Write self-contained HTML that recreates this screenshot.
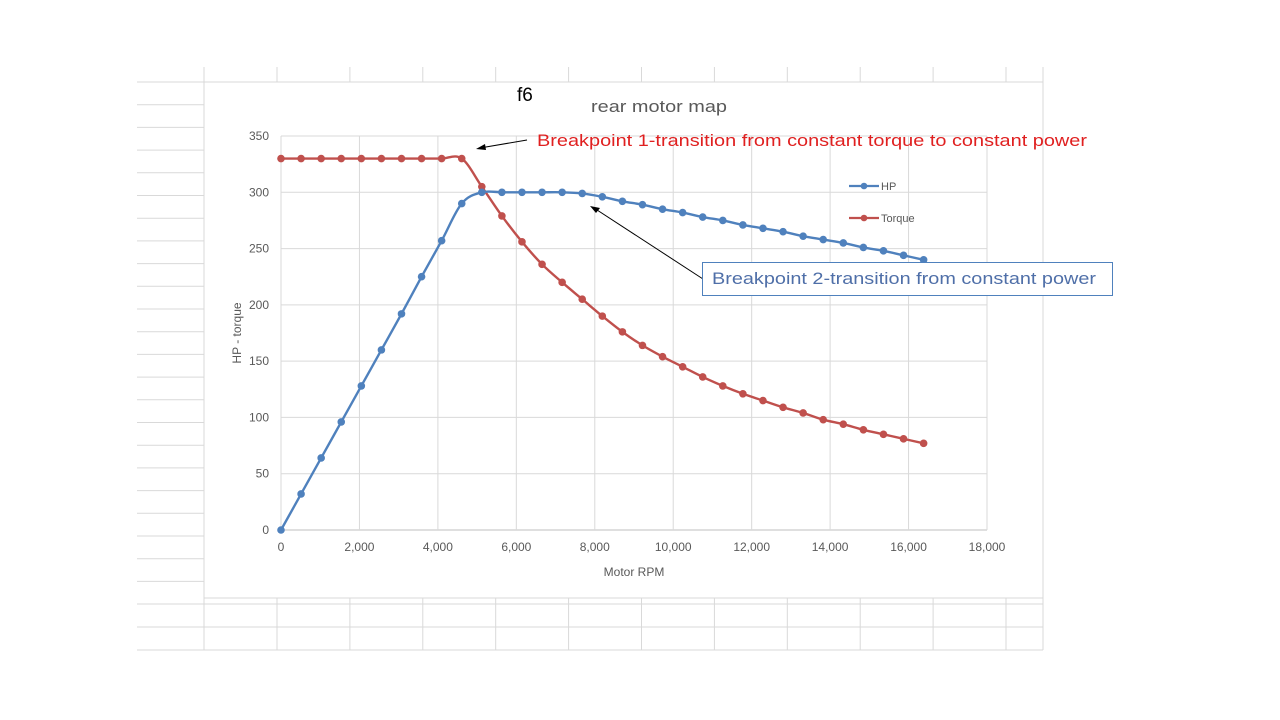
<!DOCTYPE html>
<html><head><meta charset="utf-8"><style>
html,body{margin:0;padding:0;background:#fff;}
svg{display:block;font-family:"Liberation Sans",sans-serif;}
</style></head><body>
<svg id="chart" width="1280" height="720" viewBox="0 0 1280 720">
<g id="sheet"></g>
<g id="grid"></g>
<g id="axes"></g>
<g id="series"></g>
<text x="517" y="101" font-size="19" fill="#000">f6</text>
<text x="591" y="112" font-size="17" fill="#595959" textLength="136" lengthAdjust="spacingAndGlyphs">rear motor map</text>
<text x="241" y="333" font-size="12" fill="#595959" text-anchor="middle" transform="rotate(-90 241 333)">HP - torque</text>
<text x="634" y="576" font-size="12" fill="#595959" text-anchor="middle">Motor RPM</text>
<g>
<g><line x1="849" y1="186" x2="879" y2="186" stroke="#4F81BD" stroke-width="2.2"/><circle cx="864" cy="186" r="3.3" fill="#4F81BD"/><text x="881" y="190" font-size="11" fill="#595959">HP</text></g>
<g><line x1="849" y1="218" x2="879" y2="218" stroke="#C0504D" stroke-width="2.2"/><circle cx="864" cy="218" r="3.3" fill="#C0504D"/><text x="881" y="222" font-size="11" fill="#595959">Torque</text></g>
</g>
<g>
<line x1="527" y1="140" x2="480" y2="148" stroke="#000" stroke-width="1"/>
<polygon points="476,149 485,144 486,150" fill="#000"/>
<text x="537" y="146" font-size="17" fill="#E02020" textLength="550" lengthAdjust="spacingAndGlyphs">Breakpoint 1-transition from constant torque to constant power</text>
</g>
<g>
<line x1="703" y1="279" x2="594" y2="208" stroke="#000" stroke-width="1"/>
<polygon points="590,206 600,208 596,213" fill="#000"/>
<rect x="702.5" y="262.5" width="410" height="33" fill="#fff" stroke="#4F81BD" stroke-width="1"/>
<text x="712" y="284" font-size="17" fill="#4F6FA8" textLength="384" lengthAdjust="spacingAndGlyphs">Breakpoint 2-transition from constant power</text>
</g>
</svg>
<script>
const rpm = [];
for (let i = 0; i <= 32; i++) rpm.push(i * 512);
const hpValues = [0,32,64,96,128,160,192,225,257,290,300,300,300,300,300,299,296,292,289,285,282,278,275,271,268,265,261,258,255,251,248,244,240];
const torqueValues = [330,330,330,330,330,330,330,330,330,330,305,279,256,236,220,205,190,176,164,154,145,136,128,121,115,109,104,98,94,89,85,81,77];
const xTicks = [0,2000,4000,6000,8000,10000,12000,14000,16000,18000];
const yTicks = [0,50,100,150,200,250,300,350];
const xTickLabels = ["0","2,000","4,000","6,000","8,000","10,000","12,000","14,000","16,000","18,000"];

const NS = "http://www.w3.org/2000/svg";
const X = v => 281 + v / 18000 * 706;
const Y = v => 530 - v / 350 * 394;
function mk(tag, attrs, parent) {
  const e = document.createElementNS(NS, tag);
  for (const k in attrs) e.setAttribute(k, attrs[k]);
  parent.appendChild(e);
  return e;
}
const sheet = document.getElementById('sheet');
for (let y = 82; y <= 590; y += 22.7) {
  const l = mk('line', {x1:137, y1:y, x2:204, y2:y, stroke:'#d9d9d9', 'stroke-width':1}, sheet);
  
  
}
mk('line', {x1:204, y1:82, x2:1043, y2:82, stroke:'#d9d9d9'}, sheet);
mk('line', {x1:204, y1:598, x2:1043, y2:598, stroke:'#d9d9d9'}, sheet);
[604,627,650].forEach(y => {
  const l = mk('line', {x1:137, y1:y, x2:1043, y2:y, stroke:'#d9d9d9'}, sheet);
  
  
});
mk('line', {x1:204, y1:67, x2:204, y2:650, stroke:'#d9d9d9'}, sheet);
for (let x = 277; x <= 1043; x += 72.9) {
  mk('line', {x1:x, y1:67, x2:x, y2:82, stroke:'#d9d9d9'}, sheet);
  mk('line', {x1:x, y1:598, x2:x, y2:650, stroke:'#d9d9d9'}, sheet);
}
mk('line', {x1:1043, y1:67, x2:1043, y2:650, stroke:'#d9d9d9'}, sheet);

const grid = document.getElementById('grid');
const axes = document.getElementById('axes');
yTicks.forEach(v => {
  const l = mk('line', {x1:281, y1:Y(v), x2:987, y2:Y(v), stroke: v===0 ? '#bfbfbf' : '#d9d9d9'}, grid);
  
  
  const t = mk('text', {x:269, y:Y(v)+4, 'font-size':12, fill:'#595959', 'text-anchor':'end'}, axes);
  t.textContent = v;
  
  
});
xTicks.forEach((v, i) => {
  const l = mk('line', {x1:X(v), y1:136, x2:X(v), y2:530, stroke:'#d9d9d9'}, grid);
  
  
  const t = mk('text', {x:X(v), y:551, 'font-size':12, fill:'#595959', 'text-anchor':'middle'}, axes);
  t.textContent = xTickLabels[i];
  
  
});

function smoothPath(pts) {
  let d = `M${pts[0][0]},${pts[0][1]}`;
  for (let i = 0; i < pts.length - 1; i++) {
    const p0 = pts[i-1] || pts[i], p1 = pts[i], p2 = pts[i+1], p3 = pts[i+2] || p2;
    const t = 0.5/3;
    const c1 = [p1[0] + (p2[0]-p0[0])*t, p1[1] + (p2[1]-p0[1])*t];
    const c2 = [p2[0] - (p3[0]-p1[0])*t, p2[1] - (p3[1]-p1[1])*t];
    d += ` C${c1[0]},${c1[1]} ${c2[0]},${c2[1]} ${p2[0]},${p2[1]}`;
  }
  return d;
}
const series = document.getElementById('series');
[[torqueValues, '#C0504D', 'torque'], [hpValues, '#4F81BD', 'hp']].forEach(([vals, col, nm]) => {
  const pts = vals.map((v, i) => [X(rpm[i]), Y(v)]);
  const p = mk('path', {d: smoothPath(pts), fill:'none', stroke:col, 'stroke-width':2.4}, series);
  
  
  pts.forEach(pt => {
    const c = mk('circle', {cx:pt[0], cy:pt[1], r:3.8, fill:col}, series);
    
    
  });
});
</script>
</body></html>
